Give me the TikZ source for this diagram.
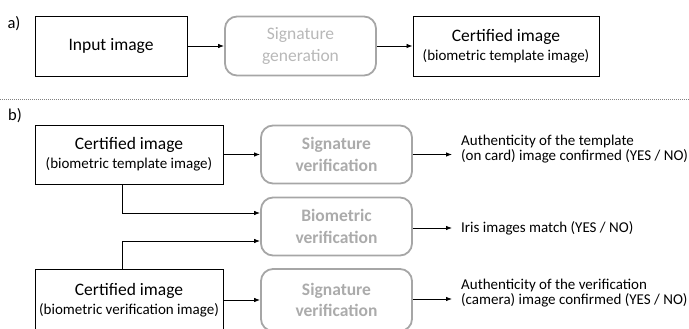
\documentclass[tikz,border=0pt]{standalone}
\usepackage{fontspec}
\setmainfont{Carlito}
\usetikzlibrary{arrows.meta,calc}
\definecolor{boxgray}{HTML}{A6A6A6}
\definecolor{txtgray}{HTML}{ABABAB}
\definecolor{txtgrayA}{HTML}{B8B8B8}
\begin{document}
\begin{tikzpicture}[x=1pt,y=-1pt,
  blackbox/.style={draw=black,line width=0.9pt,minimum width=#1,inner sep=0pt,align=center,font=\fontsize{17.5}{20}\selectfont},
  blackbox/.default=152pt,
  graybox/.style={draw=boxgray,line width=1.8pt,rounded corners=12pt,minimum width=151pt,minimum height=58pt,inner sep=0pt,align=center,text=txtgray,font=\fontsize{17.5}{21.5}\selectfont\bfseries},
  outtext/.style={anchor=west,align=left,inner sep=0pt,font=\fontsize{15}{15.5}\selectfont},
  lbl/.style={inner sep=0pt,font=\fontsize{16.5}{18}\selectfont},
  sub/.style={},
  arr/.style={-{Latex[length=6pt,width=4.5pt]},line width=0.8pt}]
\useasboundingbox (0,0) rectangle (689,329);
\clip (0,0) rectangle (689,329);
% part a
\node[lbl] (la) at (14,24) {a)};
\node[blackbox=152pt,minimum height=60pt] (inp) at (111,46) {Input image};
\node[graybox,minimum height=59pt,font=\fontsize{17.5}{21.5}\selectfont,text=txtgrayA] (sg) at (300.5,46) {Signature\\generation};
\node[blackbox=186pt,minimum height=60pt] (ca) at (506,46) {Certified image\\[-1pt]{\fontsize{15}{16}\selectfont(biometric template image)}};
\draw[arr] (inp.east) -- (sg.west);
\draw[arr] (sg.east) -- (ca.west);
% separator
\coordinate (sepl) at (0,99);
\coordinate (sepr) at (689,99);
\draw[gray,line width=0.8pt,dash pattern=on 0.8pt off 1.2pt] (sepl) -- (sepr);
% part b
\node[lbl] (lb) at (15,116) {b)};
\node[blackbox=188pt,minimum height=59pt] (ct) at (129,154.5) {Certified image\\[-1pt]{\fontsize{15}{16}\selectfont(biometric template image)}};
\node[graybox] (sv1) at (336.5,154.5) {Signature\\verification};
\node[graybox] (bv) at (336.5,226.5) {Biometric\\verification};
\node[blackbox=188pt,minimum height=62pt] (cv) at (129,300) {Certified image\\[-1pt]{\fontsize{15}{16}\selectfont(biometric verification image)}};
\node[graybox,minimum height=62pt] (sv2) at (336.5,300) {Signature\\verification};
\draw[arr] (ct.east) -- (sv1.west);
\draw[arr] (cv.east) -- (sv2.west);
\draw[arr] ([xshift=-7pt]ct.south) |- ([yshift=13.5pt]bv.west);
\draw[arr] ([xshift=-7pt]cv.north) |- ([yshift=-14.5pt]bv.west);
% outputs
\coordinate (o1) at (452,154.5);
\coordinate (o2) at (452,228);
\coordinate (o3) at (452,299);
\draw[arr] (sv1.east) -- (o1);
\draw[arr] (bv.east |- o2) -- (o2);
\draw[arr] (sv2.east |- o3) -- (o3);
\node[outtext] (t1) at (461,149) {Authenticity of the template\\(on card) image confirmed (YES / NO)};
\node[outtext] (t2) at (461,228) {Iris images match (YES / NO)};
\node[outtext] (t3) at (461,293) {Authenticity of the verification\\(camera) image confirmed (YES / NO)};
\end{tikzpicture}
\end{document}
